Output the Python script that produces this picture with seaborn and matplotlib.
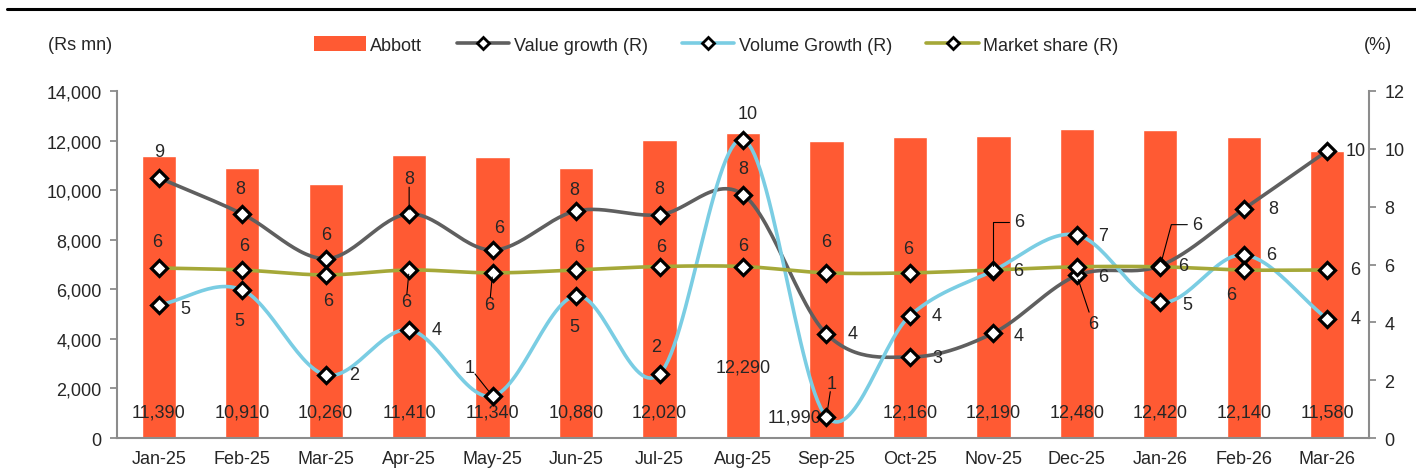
import numpy as np
import matplotlib
matplotlib.use("Agg")
import matplotlib.pyplot as plt
from matplotlib import font_manager
from matplotlib.lines import Line2D
from matplotlib.patches import Patch
import seaborn as sns

months = ["Jan-25", "Feb-25", "Mar-25", "Apr-25", "May-25", "Jun-25", "Jul-25", "Aug-25",
          "Sep-25", "Oct-25", "Nov-25", "Dec-25", "Jan-26", "Feb-26", "Mar-26"]
abbott = [11390, 10910, 10260, 11410, 11340, 10880, 12020, 12290,
          11990, 12160, 12190, 12480, 12420, 12140, 11580]
value_growth = [9.0, 7.75, 6.2, 7.75, 6.5, 7.85, 7.72, 8.42, 3.6, 2.8, 3.63, 5.62, 5.96, 7.92, 9.93]
volume_growth = [4.6, 5.12, 2.18, 3.74, 1.45, 4.92, 2.21, 10.32, 0.73, 4.23, 5.79, 7.02, 4.69, 6.33, 4.12]
market_share = [5.88, 5.81, 5.64, 5.81, 5.71, 5.81, 5.93, 5.93, 5.71, 5.71, 5.81, 5.92, 5.92, 5.81, 5.81]

# label offsets in pixels (dx, dy up) per point
vg_off = [(0, 26), (-2, 25), (1, 24), (0, 35), (7, 23), (-2, 22), (0, 26), (0, 26),
          (26, 0), (27, 0), (25, -2), (16, -48), (37, 41), (29, 0), (28, 0)]
vol_off = [(27, -4), (-3, -31), (28, 0), (27, 0), (-23, 29), (-2, -31), (-3, 28), (5, 26),
           (5, 33), (27, 0), (25, 0), (26, 0), (27, -2), (27, 0), (28, 0)]
ms_off = [(-2, 26), (2, 24), (3, -26), (-3, -32), (-3, -32), (3, 23), (2, 20), (0, 21),
          (0, 31), (-2, 24), (26, 48), (26, -10), (23, 1), (-13, -25), (28, 0)]
# leader lines: (series, index) -> connection style
leaders = {("vg", 3): "arc3", ("vg", 11): "arc3", ("vg", 12): "angle,angleA=0,angleB=75,rad=0",
           ("vol", 4): "arc3", ("vol", 8): "arc3", ("ms", 10): "angle,angleA=0,angleB=90,rad=0",
           ("ms", 3): "arc3", ("ms", 4): "arc3"}

bar_color = "#FF5A33"
gray = "#5F5F5F"
blue = "#7ACDE3"
olive = "#A5A838"
axis_gray = "#8C8C8C"

sns.set_style("white")
names = {f.name for f in font_manager.fontManager.ttflist}
fam = "Liberation Sans Narrow" if "Liberation Sans Narrow" in names else "Liberation Sans"
plt.rcParams["font.family"] = [fam, "DejaVu Sans"]
fs = 13


def smooth(y, n=30):
    # Catmull-Rom curve through the points, like Excel's smoothed line
    y = np.asarray(y, float)
    x = np.arange(len(y), dtype=float)
    px = np.concatenate([[2 * x[0] - x[1]], x, [2 * x[-1] - x[-2]]])
    py = np.concatenate([[2 * y[0] - y[1]], y, [2 * y[-1] - y[-2]]])
    xs, ys = [], []
    t = np.linspace(0, 1, n)
    for i in range(1, len(px) - 2):
        for arr, out in ((px, xs), (py, ys)):
            p0, p1, p2, p3 = arr[i - 1], arr[i], arr[i + 1], arr[i + 2]
            out.append(0.5 * ((2 * p1) + (-p0 + p2) * t + (2 * p0 - 5 * p1 + 4 * p2 - p3) * t ** 2
                              + (-p0 + 3 * p1 - 3 * p2 + p3) * t ** 3))
    return np.concatenate(xs), np.concatenate(ys)


fig = plt.figure(figsize=(14.16, 4.77), dpi=100)
ax = fig.add_axes([117 / 1416, 1 - 439 / 477, (1369 - 117) / 1416, (439 - 92) / 477])
sns.barplot(x=months, y=abbott, ax=ax, color=bar_color, width=0.41, saturation=1)
ax.set_xlim(-0.5, 14.5)
ax.set_ylim(0, 14000)
ax.set_yticks(range(0, 14001, 2000))
ax.set_yticklabels([f"{v:,}" for v in range(0, 14001, 2000)], fontsize=fs)
ax.set_xticks(range(len(months)))
ax.set_xticklabels(months, fontsize=fs)
ax.set_xticks(np.arange(-0.5, 15, 1), minor=True)
ax.tick_params(axis="x", which="major", length=0, pad=9)
ax.tick_params(axis="x", which="minor", length=5, color=axis_gray, width=1.3, direction="out")
ax.tick_params(axis="y", length=5, color=axis_gray, width=1.3, direction="out", pad=6)
ax.set_xlabel("")
ax.set_ylabel("")
for s in ["top", "right"]:
    ax.spines[s].set_visible(False)
for s in ["left", "bottom"]:
    ax.spines[s].set_color(axis_gray)
    ax.spines[s].set_linewidth(1.5)

ax2 = ax.twinx()
ax2.set_ylim(0, 12)
ax2.set_yticks(range(0, 13, 2))
ax2.set_yticklabels([str(v) for v in range(0, 13, 2)], fontsize=fs)
ax2.tick_params(axis="y", length=5, color=axis_gray, width=1.3, direction="out", pad=6)
for s in ["top", "left", "bottom"]:
    ax2.spines[s].set_visible(False)
ax2.spines["right"].set_color(axis_gray)
ax2.spines["right"].set_linewidth(1.5)

mk = dict(marker="D", markersize=8.5, markerfacecolor="white", markeredgecolor="black",
          markeredgewidth=2.3, linestyle="none", zorder=5)
series = [("vg", value_growth, gray, vg_off), ("vol", volume_growth, blue, vol_off),
          ("ms", market_share, olive, ms_off)]
for key, vals, col, offs in series:
    sx, sy = smooth(vals)
    ax2.plot(sx, sy, color=col, lw=2.6, zorder=3, solid_capstyle="round")
for key, vals, col, offs in series:
    ax2.plot(range(len(vals)), vals, **mk)
for key, vals, col, offs in series:
    for i, v in enumerate(vals):
        dx, dy = offs[i]
        ax2.annotate(f"{v:.0f}", (i, v), xytext=(dx * 0.72, dy * 0.72), textcoords="offset points",
                     ha="center", va="center", fontsize=fs, zorder=6)
        style = leaders.get((key, i))
        if style:
            if style == "arc3":
                start = (dx * 0.55, dy * 0.55)
            else:
                start = ((dx - 10) * 0.72, dy * 0.72)
            ax2.annotate("", (i, v), xytext=start, textcoords="offset points",
                         arrowprops=dict(arrowstyle="-", color="black", lw=0.8, shrinkA=0, shrinkB=3,
                                         connectionstyle=style),
                         zorder=6)

# bar value labels
bar_pos = {7: (0, 2865), 8: (-0.38, 850)}
for i, v in enumerate(abbott):
    dx, yv = bar_pos.get(i, (0, 1050))
    ax.text(i + dx, yv, f"{v:,}", ha="center", va="center", fontsize=fs, zorder=4)

line_handle = dict(lw=2.6, marker="D", markersize=6.5, markerfacecolor="white",
                   markeredgecolor="black", markeredgewidth=2)
handles = [Patch(facecolor=bar_color, edgecolor="none"),
           Line2D([], [], color=gray, **line_handle),
           Line2D([], [], color=blue, **line_handle),
           Line2D([], [], color=olive, **line_handle)]
fig.legend(handles, ["Abbott", "Value growth (R)", "Volume Growth (R)", "Market share (R)"],
           loc="center", bbox_to_anchor=(716 / 1416, 1 - 46 / 477), ncol=4, frameon=False,
           fontsize=fs, handlelength=2.9, handleheight=0.9, columnspacing=1.9, handletextpad=0.25)

fig.text(80 / 1416, 1 - 46 / 477, "(Rs mn)", ha="center", va="center", fontsize=fs)
fig.text(1378 / 1416, 1 - 46 / 477, "(%)", ha="center", va="center", fontsize=fs)
fig.add_artist(Line2D([7 / 1416, 1.0], [1 - 10 / 477, 1 - 10 / 477], color="black", lw=2.2))

fig.savefig("out.png", dpi=100)
